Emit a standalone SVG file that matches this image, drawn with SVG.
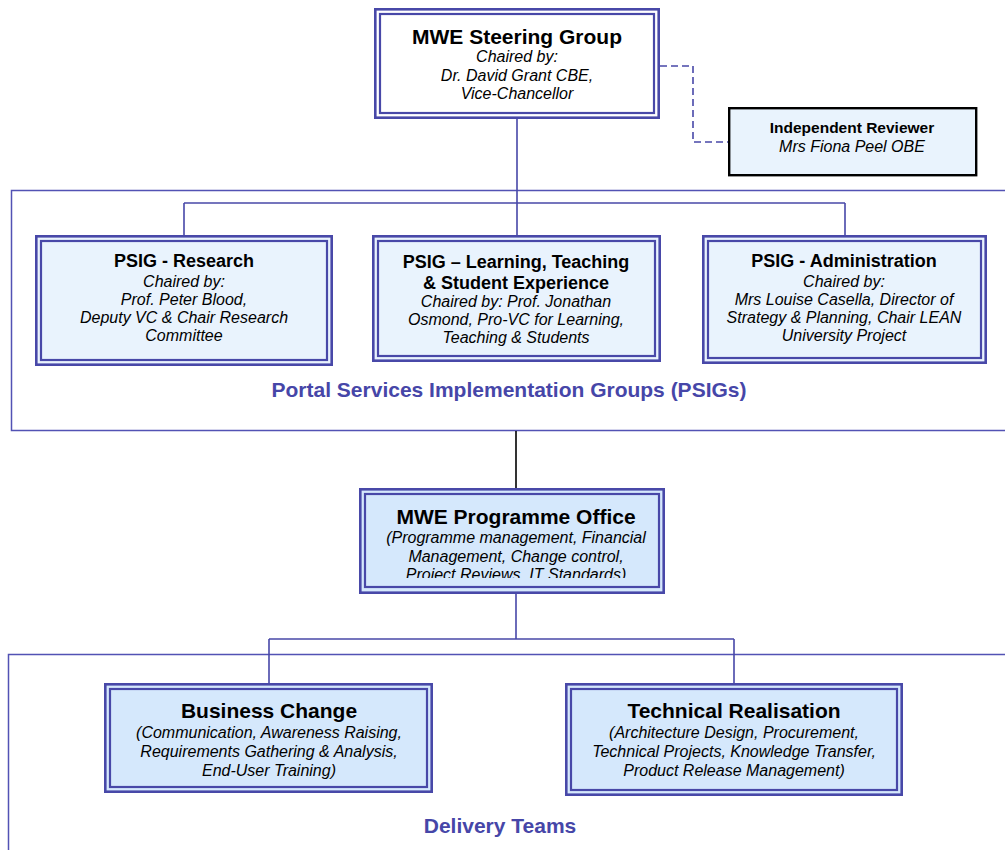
<svg xmlns="http://www.w3.org/2000/svg" width="1005" height="850" viewBox="0 0 1005 850">
<defs>
<style>
.o{fill:none;stroke:#4848a8;stroke-width:2.6}
.i{fill:none;stroke:#4848a8;stroke-width:2.2}
.fw{fill:#ffffff}
.fl{fill:#e9f3fd}
.fd{fill:#d5e8fc}
.frame{fill:none;stroke:#5252b4;stroke-width:1.5}
.c{fill:none;stroke:#4848a8;stroke-width:1.6}
.t{font-family:"Liberation Sans",Arial,sans-serif;text-anchor:middle;fill:#000}
.b21{font-size:21px;font-weight:bold}
.b18{font-size:18px;font-weight:bold}
.b16{font-size:15.5px;font-weight:bold}
.it{font-size:16px;font-style:italic}
.lbl{font-family:"Liberation Sans",Arial,sans-serif;text-anchor:middle;fill:#4646a8;font-weight:bold}
</style>
<clipPath id="pclip"><rect x="362" y="490" width="300" height="88"/></clipPath>
</defs>
<rect x="0" y="0" width="1005" height="850" fill="#ffffff"/>

<g id="frames">
<rect class="frame" x="11.5" y="190.5" width="1010" height="240"/>
<rect class="frame" x="8.5" y="654.5" width="1010" height="220"/>
<text class="lbl" x="509" y="397" font-size="21">Portal Services Implementation Groups (PSIGs)</text>
<text class="lbl" x="500" y="833" font-size="21">Delivery Teams</text>
</g>

<g id="connectors">
<path class="c" d="M517 119 V203 M184 203 H845 M184 203 V235 M517 203 V235 M845 203 V235"/>
<path class="c" d="M660 66 H693 V142 H728" stroke-dasharray="7,4"/>
<path d="M516 431 V488" fill="none" stroke="#000" stroke-width="1.6"/>
<path class="c" d="M516 594 V639 M269 639 H734 M269 639 V683 M734 639 V683"/>
</g>

<g id="steering">
<rect class="fw" x="374" y="8" width="286" height="111"/>
<rect class="o" x="375.3" y="9.3" width="283.4" height="108.4"/>
<rect class="i" x="380" y="14" width="274" height="99"/>
<text class="t b21" x="517" y="44">MWE Steering Group</text>
<text class="t it" x="517" y="62">Chaired by:</text>
<text class="t it" x="517" y="81">Dr. David Grant CBE,</text>
<text class="t it" x="517" y="99">Vice-Chancellor</text>
</g>

<g id="reviewer">
<rect x="729.2" y="108.2" width="247" height="67" fill="#e9f3fd" stroke="#000" stroke-width="2.4"/>
<text class="t b16" x="852" y="133">Independent Reviewer</text>
<text class="t it" x="852" y="152">Mrs Fiona Peel OBE</text>
</g>

<g id="psig-research">
<rect class="fl" x="35" y="235" width="298" height="131"/>
<rect class="o" x="36.3" y="236.3" width="295.4" height="128.4"/>
<rect class="i" x="41" y="241" width="286" height="119"/>
<text class="t b18" x="184" y="267">PSIG - Research</text>
<text class="t it" x="184" y="287">Chaired by:</text>
<text class="t it" x="184" y="305">Prof. Peter Blood,</text>
<text class="t it" x="184" y="323">Deputy VC &amp; Chair Research</text>
<text class="t it" x="184" y="341">Committee</text>
</g>

<g id="psig-learning">
<rect class="fl" x="372" y="235" width="289" height="127"/>
<rect class="o" x="373.3" y="236.3" width="286.4" height="124.4"/>
<rect class="i" x="378" y="241" width="277" height="115"/>
<text class="t b18" x="516" y="268">PSIG – Learning, Teaching</text>
<text class="t b18" x="516" y="289">&amp; Student Experience</text>
<text class="t it" x="516" y="307">Chaired by: Prof. Jonathan</text>
<text class="t it" x="516" y="325">Osmond, Pro-VC for Learning,</text>
<text class="t it" x="516" y="343">Teaching &amp; Students</text>
</g>

<g id="psig-admin">
<rect class="fl" x="702" y="235" width="285" height="129"/>
<rect class="o" x="703.3" y="236.3" width="282.4" height="126.4"/>
<rect class="i" x="708" y="241" width="273" height="117"/>
<text class="t b18" x="844" y="267">PSIG - Administration</text>
<text class="t it" x="844" y="287">Chaired by:</text>
<text class="t it" x="844" y="305">Mrs Louise Casella, Director of</text>
<text class="t it" x="844" y="323">Strategy &amp; Planning, Chair LEAN</text>
<text class="t it" x="844" y="341">University Project</text>
</g>

<g id="programme-office">
<rect class="fd" x="359" y="488" width="306" height="106"/>
<rect class="o" x="360.3" y="489.3" width="303.4" height="103.4"/>
<rect class="i" x="365" y="494" width="294" height="93"/>
<text class="t b21" x="516" y="524">MWE Programme Office</text>
<g clip-path="url(#pclip)">
<text class="t it" x="516" y="543">(Programme management, Financial</text>
<text class="t it" x="516" y="562">Management, Change control,</text>
<text class="t it" x="516" y="580">Project Reviews, IT Standards)</text>
</g>
</g>

<g id="business-change">
<rect class="fd" x="104" y="683" width="329" height="110"/>
<rect class="o" x="105.3" y="684.3" width="326.4" height="107.4"/>
<rect class="i" x="110" y="689" width="317" height="98"/>
<text class="t b21" x="269" y="718">Business Change</text>
<text class="t it" x="269" y="738">(Communication, Awareness Raising,</text>
<text class="t it" x="269" y="757">Requirements Gathering &amp; Analysis,</text>
<text class="t it" x="269" y="776">End-User Training)</text>
</g>

<g id="technical-realisation">
<rect class="fd" x="565" y="683" width="338" height="113"/>
<rect class="o" x="566.3" y="684.3" width="335.4" height="110.4"/>
<rect class="i" x="571" y="689" width="326" height="101"/>
<text class="t b21" x="734" y="718">Technical Realisation</text>
<text class="t it" x="734" y="738">(Architecture Design, Procurement,</text>
<text class="t it" x="734" y="757">Technical Projects, Knowledge Transfer,</text>
<text class="t it" x="734" y="776">Product Release Management)</text>
</g>
</svg>
